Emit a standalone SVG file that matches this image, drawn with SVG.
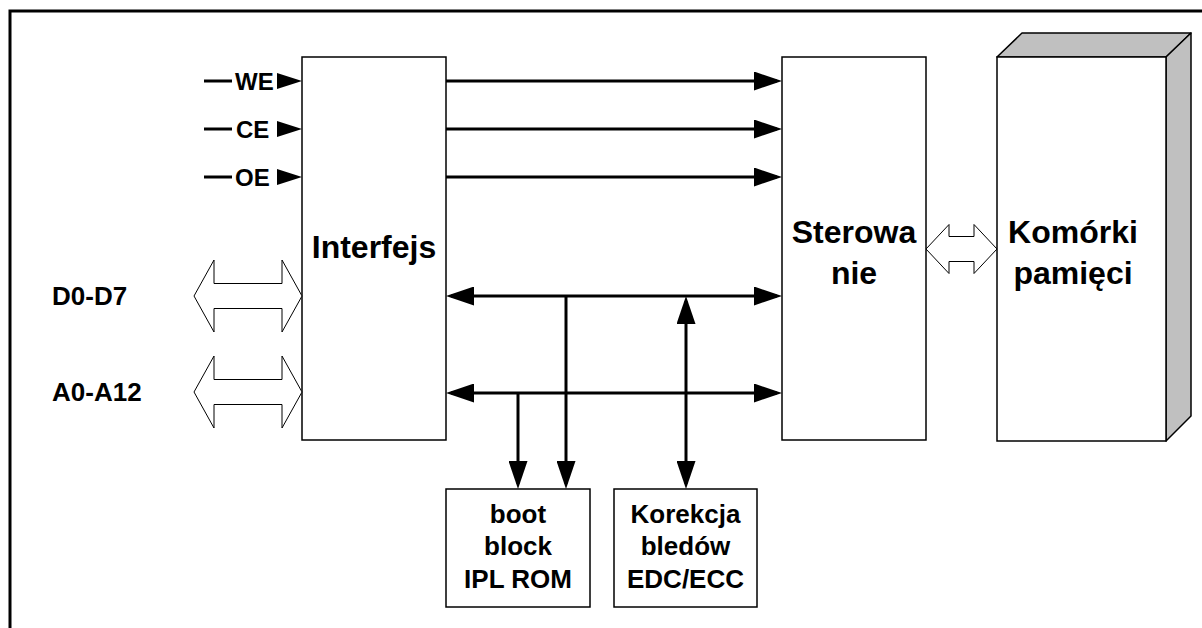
<svg xmlns="http://www.w3.org/2000/svg" width="1202" height="628" viewBox="0 0 1202 628">
<style>
  .t { font-family: "Liberation Sans", Arial, sans-serif; font-weight: bold; fill: #000; }
  .big { font-size: 32px; text-anchor: middle; }
  .mid { font-size: 26px; text-anchor: middle; }
  .sig { font-size: 24px; }
  .lbl { font-size: 26px; }
  .box { fill: #fff; stroke: #000; stroke-width: 1.5; }
  .shade { fill: #c0c0c0; stroke: #000; stroke-width: 1.5; stroke-linejoin: round; }
  .wire { stroke: #000; stroke-width: 3; fill: none; }
  .open { fill: #fff; stroke: #000; stroke-width: 1; }
  .frame { stroke: #000; stroke-width: 3; fill: none; }
</style>
<defs>
  <marker id="ah" markerUnits="userSpaceOnUse" markerWidth="28" markerHeight="19" refX="23" refY="9.5" orient="auto-start-reverse" viewBox="0 0 28 19">
    <path d="M0,0 L28,9.5 L0,19 z" fill="#000"/>
  </marker>
</defs>
<rect x="0" y="0" width="1202" height="628" fill="#fff"/>
<path class="frame" d="M1202,11 L10,11 L10,628"/>

<g id="interfejs">
  <rect class="box" x="302" y="57" width="144" height="383"/>
  <text class="t big" x="374" y="258">Interfejs</text>
</g>

<g id="sterowanie">
  <rect class="box" x="782" y="57" width="144" height="383"/>
  <text class="t big" x="854" y="243">Sterowa</text>
  <text class="t big" x="854" y="284">nie</text>
</g>

<g id="komorki">
  <polygon class="shade" points="997,57 1022,33 1191,33 1166,57"/>
  <polygon class="shade" points="1166,57 1191,33 1191,416 1166,441"/>
  <rect class="box" x="997" y="57" width="169" height="384"/>
  <text class="t big" x="1073" y="243">Komórki</text>
  <text class="t big" x="1073" y="284">pamięci</text>
</g>

<g id="bootblock">
  <rect class="box" x="446" y="489" width="144" height="118"/>
  <text class="t mid" x="518" y="523">boot</text>
  <text class="t mid" x="518" y="555">block</text>
  <text class="t mid" x="518" y="588">IPL ROM</text>
</g>

<g id="korekcja">
  <rect class="box" x="614" y="489" width="143" height="118"/>
  <text class="t mid" x="685.5" y="523">Korekcja</text>
  <text class="t mid" x="685.5" y="555">bledów</text>
  <text class="t mid" x="685.5" y="588">EDC/ECC</text>
</g>

<g id="signals">
  <line class="wire" x1="204" y1="81" x2="232" y2="81"/>
  <text class="t sig" x="235" y="89.5">WE</text>
  <polygon points="277,73 302,81 277,89" fill="#000"/>
  <line class="wire" x1="204" y1="129" x2="232" y2="129"/>
  <text class="t sig" x="236" y="137.5">CE</text>
  <polygon points="277,121 302,129 277,137" fill="#000"/>
  <line class="wire" x1="204" y1="177" x2="232" y2="177"/>
  <text class="t sig" x="235" y="185.5">OE</text>
  <polygon points="277,169 302,177 277,185" fill="#000"/>
</g>

<g id="buses">
  <polygon class="open" points="194,296 214,260 214,283.5 282,283.5 282,260 302,296 282,332 282,308.5 214,308.5 214,332"/>
  <text class="t lbl" x="52" y="305">D0-D7</text>
  <polygon class="open" points="194,392 214,356 214,379.5 282,379.5 282,356 302,392 282,428 282,404.5 214,404.5 214,428"/>
  <text class="t lbl" x="52" y="401">A0-A12</text>
  <polygon class="open" points="926,249 949,224.5 949,236.5 974,236.5 974,224.5 997,249 974,273.5 974,261.5 949,261.5 949,273.5"/>
</g>

<g id="connectors">
  <line class="wire" x1="446" y1="81" x2="777" y2="81" marker-end="url(#ah)"/>
  <line class="wire" x1="446" y1="129" x2="777" y2="129" marker-end="url(#ah)"/>
  <line class="wire" x1="446" y1="177" x2="777" y2="177" marker-end="url(#ah)"/>
  <line class="wire" x1="451" y1="296" x2="777" y2="296" marker-start="url(#ah)" marker-end="url(#ah)"/>
  <line class="wire" x1="451" y1="393" x2="777" y2="393" marker-start="url(#ah)" marker-end="url(#ah)"/>
  <line class="wire" x1="566" y1="296" x2="566" y2="484" marker-end="url(#ah)"/>
  <line class="wire" x1="518" y1="393" x2="518" y2="484" marker-end="url(#ah)"/>
  <line class="wire" x1="686" y1="301" x2="686" y2="484" marker-start="url(#ah)" marker-end="url(#ah)"/>
</g>
</svg>
